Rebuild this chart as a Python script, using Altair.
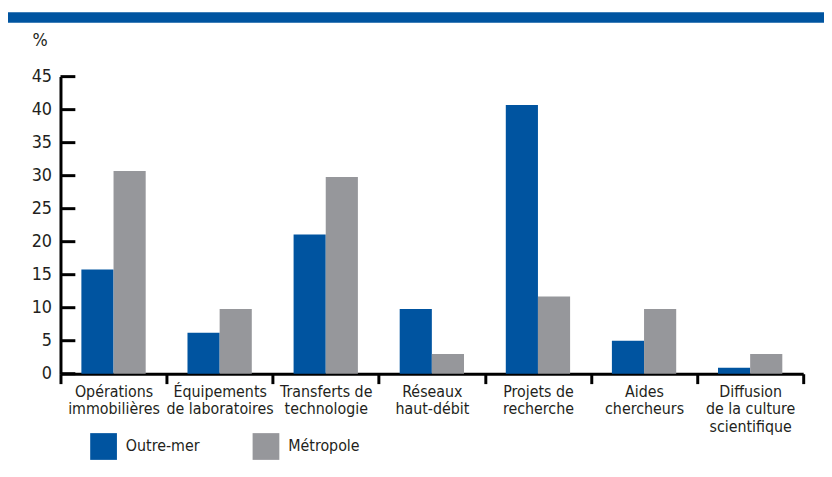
import altair as alt
import pandas as pd

categories = [
    "Opérations|immobilières",
    "Équipements|de laboratoires",
    "Transferts de|technologie",
    "Réseaux|haut-débit",
    "Projets de|recherche",
    "Aides|chercheurs",
    "Diffusion|de la culture|scientifique",
]
series = ["Outre-mer", "Métropole"]
outre_mer = [15.8, 6.2, 21.1, 9.8, 40.7, 5.0, 0.9]
metropole = [30.7, 9.8, 29.8, 3.0, 11.7, 9.8, 3.0]
y_ticks = [0, 5, 10, 15, 20, 25, 30, 35, 40, 45]

BLUE = "#0054a0"
GREY = "#96979b"
TEXT = "#231f20"
FONT = "DejaVu Sans Condensed, Liberation Sans Narrow, sans-serif"

rows = []
for c, a, b in zip(categories, outre_mer, metropole):
    rows.append({"cat": c, "serie": series[0], "val": a})
    rows.append({"cat": c, "serie": series[1], "val": b})
df = pd.DataFrame(rows)

W, H = 750, 300

y_enc = alt.Y(
    "val:Q",
    scale=alt.Scale(domain=[0, 45], nice=False, zero=True),
    axis=alt.Axis(
        values=y_ticks, title="%", titleAngle=0, titleX=-21, titleY=-31,
        titleAlign="center", titleBaseline="alphabetic", titleFontSize=18,
        titleFontWeight="normal", titleFont=FONT, titleColor=TEXT,
        labelFontSize=18, labelFont=FONT, labelColor=TEXT, labelPadding=9,
        ticks=False, grid=False, domainWidth=3, domainColor="black",
    ),
)

bars = alt.Chart(df).mark_bar().encode(
    x=alt.X(
        "cat:N",
        sort=categories,
        scale=alt.Scale(paddingInner=0, paddingOuter=0),
        axis=alt.Axis(
            title=None, labelAngle=0, labelExpr="split(datum.label, '|')",
            tickBand="extent", tickSize=10, tickWidth=3, tickColor="black",
            domainWidth=3, domainColor="black", labelFontSize=16,
            labelLineHeight=17.5, labelPadding=0, labelColor=TEXT,
            labelFont=FONT, labelBaseline="top",
        ),
    ),
    xOffset=alt.XOffset("serie:N", sort=series,
                        scale=alt.Scale(paddingOuter=0.65, paddingInner=0)),
    y=y_enc,
    color=alt.Color(
        "serie:N", sort=series,
        scale=alt.Scale(domain=series, range=[BLUE, GREY]),
        legend=alt.Legend(
            title=None, orient="none", legendX=30, legendY=360,
            direction="horizontal", symbolType="square", symbolSize=729,
            symbolStrokeWidth=0, symbolOpacity=1, labelFontSize=16,
            labelFont=FONT, labelColor=TEXT, labelOffset=9,
            columnPadding=53, padding=0,
        ),
    ),
)

tick_layer = alt.Chart(pd.DataFrame({"val": y_ticks})).mark_rule(
    strokeWidth=3, color="black"
).encode(
    y=y_enc,
    x=alt.value(0),
    x2=alt.value(15),
)

band = alt.Chart(pd.DataFrame({"a": [0]})).mark_rect(color=BLUE).encode(
    x=alt.value(-53), x2=alt.value(771), y=alt.value(-65), y2=alt.value(-54.5)
)

chart = alt.layer(band, bars, tick_layer).properties(
    width=W, height=H,
    autosize=alt.AutoSizeParams(type="none"),
    padding={"left": 53, "top": 67, "right": 21, "bottom": 102},
    background="white",
).configure_view(stroke=None)

chart.save("out.html", embed_options={"renderer": "svg", "actions": False})
